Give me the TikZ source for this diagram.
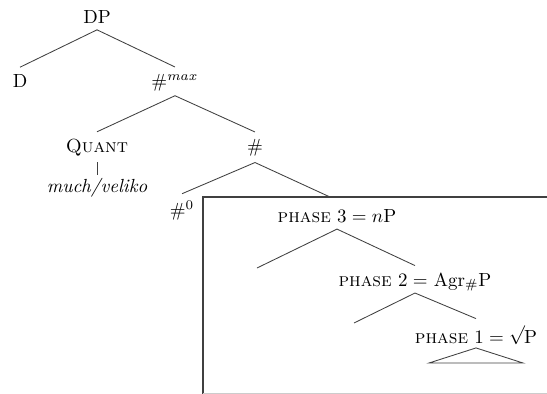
\documentclass[tikz,border=0pt]{standalone}
\begin{document}
\begin{tikzpicture}[x=0.527pt,y=-0.527pt,
  lbl/.style={anchor=base,inner sep=0pt,outer xsep=0pt,outer ysep=3.6pt},
  edge/.style={draw=black!75,line width=0.45pt}]
\useasboundingbox (0,0) rectangle (547,394);
\clip (0,0) rectangle (547,394);
% nodes
\node[lbl] (dp) at (97,23) {DP};
\node[lbl] (d) at (20,87) {D};
\node[lbl] (hmax) at (175,87) {$\#^{max}$};
\node[lbl] (quant) at (97,152) {\textsc{Quant}};
\node[lbl] (much) at (97,192) {\textit{much/veliko}};
\node[lbl] (hash) at (255,152) {$\#$};
\node[lbl] (hzero) at (182,216) {$\#^0$};
\node[lbl] (ph3) at (337,222) {\textsc{phase} $3 = n$P};
\node[lbl] (ph2) at (415,286) {\textsc{phase} $2 =$ Agr$_{\#}$P};
\node[lbl] (ph1) at (476,343) {\textsc{phase} $1 = \sqrt{\vphantom{P}}$\kern-0.5ptP};
% free ends
\coordinate (boxhit) at (330,197);
\coordinate (l3) at (257,268);
\coordinate (l2) at (354,323);
\coordinate (tl) at (429,363);
\coordinate (tr) at (523,363);
\coordinate (boxtl) at (203,197);
\coordinate (boxbl) at (203,400);
\coordinate (boxtr) at (600,197);
\coordinate (botl) at (203,393.6);
\coordinate (botr) at (600,393.6);
% box
\draw[edge,line width=0.55pt] (boxbl) -- (boxtl) -- (boxtr);
\draw[draw=black!20,line width=0.5pt] (botl) -- (botr);
% connectors
\draw[edge] (dp.south) -- (d.north);
\draw[edge] (dp.south) -- (hmax.north);
\draw[edge] ([yshift=-4.6pt]hmax.base) -- (quant.north);
\draw[edge] ([yshift=-4.6pt]hmax.base) -- (hash.north);
\draw[edge] ([yshift=-5.3pt]quant.base) -- ([yshift=9pt]much.base);
\draw[edge] (hash.south) -- (hzero.north);
\draw[edge] (hash.south) -- (boxhit);
\draw[edge] (ph3.south) -- (l3);
\draw[edge] (ph3.south) -- (ph2.north);
\draw[edge] ([yshift=-3.7pt]ph2.base) -- (l2);
\draw[edge] ([yshift=-3.7pt]ph2.base) -- (ph1.north);
\draw[edge] (tl) -- ([yshift=-2.6pt]ph1.base) -- (tr) -- cycle;
\end{tikzpicture}
\end{document}
